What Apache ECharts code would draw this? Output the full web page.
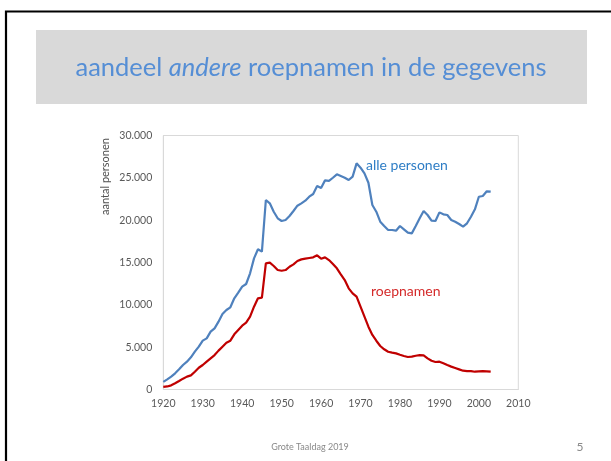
<!DOCTYPE html>
<html><head><meta charset="utf-8">
<script src="https://cdn.jsdelivr.net/npm/echarts@6/dist/echarts.min.js"></script>
<style>html,body{margin:0;padding:0;background:#fff}#c{width:611px;height:461px}</style>
</head><body><div id="c"></div>
<script>
const years = [1920,1921,1922,1923,1924,1925,1926,1927,1928,1929,1930,1931,1932,1933,1934,1935,1936,1937,1938,1939,
1940,1941,1942,1943,1944,1945,1946,1947,1948,1949,1950,1951,1952,1953,1954,1955,1956,1957,1958,1959,
1960,1961,1962,1963,1964,1965,1966,1967,1968,1969,1970,1971,1972,1973,1974,1975,1976,1977,1978,1979,
1980,1981,1982,1983,1984,1985,1986,1987,1988,1989,1990,1991,1992,1993,1994,1995,1996,1997,1998,1999,
2000,2001,2002,2003];
const allePersonen = [900,1200,1520,1910,2380,2890,3290,3800,4470,5060,5770,6040,6830,7220,8010,8920,9390,9710,10770,11430,
12140,12460,13720,15490,16560,16280,22380,21990,21000,20220,19900,20020,20490,21080,21710,21990,22300,22770,23090,24030,
23800,24700,24640,25010,25410,25210,25010,24740,25140,26710,26200,25530,24420,21790,21000,19820,19310,18840,18840,18760,
19310,18920,18520,18440,19310,20220,21080,20610,19940,19900,20920,20690,20610,20020,19820,19550,19230,19630,20410,21280,
22770,22850,23410,23370];
const roepnamen = [300,360,490,730,1000,1280,1520,1670,2100,2570,2890,3290,3680,4070,4590,5060,5530,5770,6520,7030,
7540,7890,8600,9780,10770,10850,14900,14980,14590,14110,14030,14110,14500,14780,15180,15370,15450,15530,15610,15850,
15450,15610,15290,14820,14310,13600,12930,11950,11360,10960,9780,8600,7420,6440,5760,5140,4750,4460,4350,4270,
4110,3960,3840,3880,3990,4050,4030,3680,3400,3250,3290,3100,2890,2700,2540,2380,2220,2180,2180,2100,
2140,2180,2140,2100];
const xTicks = [1920,1930,1940,1950,1960,1970,1980,1990,2000,2010];
const yTicks = [0,5000,10000,15000,20000,25000,30000];
const titleText = ['aandeel ', 'andere', ' roepnamen in de gegevens'];
const yAxisTitle = 'aantal personen';
const seriesNames = ['alle personen', 'roepnamen'];
const footer = 'Grote Taaldag 2019';
const pageNo = '5';

const FONT = 'Lato';
function fmt(v){ return String(v).replace(/\B(?=(\d{3})+(?!\d))/g, '.'); }

const chart = echarts.init(document.getElementById('c'), null, {renderer:'canvas'});
chart.setOption({
  animation:false,
  backgroundColor:'#fff',
  textStyle:{fontFamily:FONT},
  grid:{left:163.3, right:92.7, top:135.5, bottom:71.5, show:true, borderColor:'#d9d9d9', borderWidth:1, backgroundColor:'transparent'},
  xAxis:{type:'value', min:xTicks[0], max:xTicks[xTicks.length-1], interval:10,
    axisLine:{show:true, lineStyle:{color:'#d9d9d9'}}, axisTick:{show:false}, splitLine:{show:false},
    axisLabel:{color:'#595959', fontSize:10.5, fontFamily:FONT, margin:9, formatter:v=>String(v)}},
  yAxis:{type:'value', min:yTicks[0], max:yTicks[yTicks.length-1], interval:5000,
    axisLine:{show:true, lineStyle:{color:'#d9d9d9'}}, axisTick:{show:false}, splitLine:{show:false},
    axisLabel:{color:'#595959', fontSize:10.5, fontFamily:FONT, margin:11, formatter:fmt}},
  series:[
    {name:seriesNames[0], type:'line', data:years.map((y,i)=>[y,allePersonen[i]]), showSymbol:false,
      lineStyle:{color:'#4f81bd', width:2.2}, itemStyle:{color:'#4f81bd'}, z:3},
    {name:seriesNames[1], type:'line', data:years.map((y,i)=>[y,roepnamen[i]]), showSymbol:false,
      lineStyle:{color:'#c00000', width:2.2}, itemStyle:{color:'#c00000'}, z:3}
  ],
  graphic:[
    {type:'rect', shape:{x:6, y:11.5, width:700, height:600}, style:{fill:'none', stroke:'#000', lineWidth:2.2}, silent:true},
    {type:'rect', shape:{x:36, y:30, width:551, height:74}, style:{fill:'#d9d9d9'}, silent:true},
    {type:'text', x:311, y:68, style:{
      text:'{n|'+titleText[0]+'}{i|'+titleText[1]+'}{n|'+titleText[2]+'}',
      align:'center', verticalAlign:'middle',
      rich:{n:{fontFamily:FONT, fontSize:25.5, fill:'#558ed5'}, i:{fontFamily:FONT, fontSize:25.5, fontStyle:'italic', fill:'#558ed5'}}
    }},
    {type:'text', x:105, y:176.5, rotation:Math.PI/2, style:{text:yAxisTitle, fontFamily:FONT, fontSize:11, fill:'#505050', align:'center', verticalAlign:'middle'}},
    {type:'text', x:366, y:165, style:{text:seriesNames[0], fontFamily:FONT, fontSize:14, fill:'#2e7dc5', align:'left', verticalAlign:'middle'}},
    {type:'text', x:371, y:291, style:{text:seriesNames[1], fontFamily:FONT, fontSize:14, fill:'#d42a2a', align:'left', verticalAlign:'middle'}},
    {type:'text', x:310, y:447, style:{text:footer, fontFamily:FONT, fontSize:9, fill:'#898989', align:'center', verticalAlign:'middle'}},
    {type:'text', x:580, y:447, style:{text:pageNo, fontFamily:FONT, fontSize:12, fill:'#898989', align:'center', verticalAlign:'middle'}}
  ]
});
</script></body></html>
